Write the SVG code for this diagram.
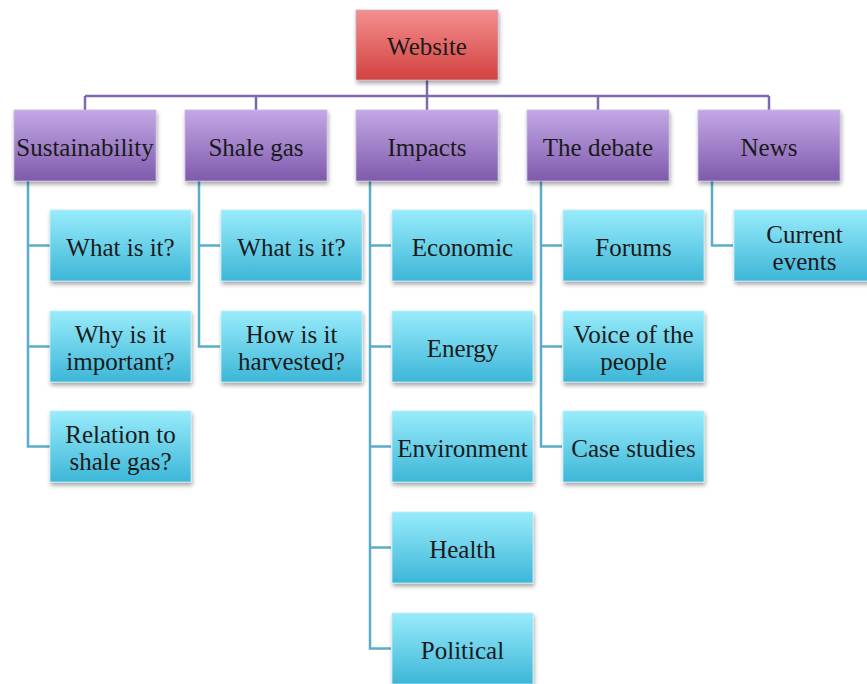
<svg xmlns="http://www.w3.org/2000/svg" width="867" height="684" viewBox="0 0 867 684">
<defs>
<linearGradient id="gRed" x1="0" y1="0" x2="0" y2="1"><stop offset="0" stop-color="#f48f8f"/><stop offset="1" stop-color="#d2423f"/></linearGradient>
<linearGradient id="gPur" x1="0" y1="0" x2="0" y2="1"><stop offset="0" stop-color="#c3a8e6"/><stop offset="1" stop-color="#7f5aac"/></linearGradient>
<linearGradient id="gCy" x1="0" y1="0" x2="0" y2="1"><stop offset="0" stop-color="#98ecfb"/><stop offset="1" stop-color="#3db6d8"/></linearGradient>
<filter id="sh" x="-10%" y="-10%" width="125%" height="140%"><feDropShadow dx="1" dy="3" stdDeviation="2" flood-color="#000" flood-opacity="0.35"/></filter>
<style>
.red{fill:url(#gRed);stroke:#c8b0c8;stroke-width:0.8;filter:url(#sh)}
.pur{fill:url(#gPur);stroke:#c9b8e0;stroke-width:0.8;filter:url(#sh)}
.cy{fill:url(#gCy);stroke:#c0eef8;stroke-width:0.8;filter:url(#sh)}
text{font-family:"Liberation Serif","Times New Roman",serif;font-size:25px;fill:#1a1a1a;text-anchor:middle}
.cp{fill:none;stroke:#8068b0;stroke-width:2.5}
.cc{fill:none;stroke:#58aec8;stroke-width:2.5}
</style>
</defs>
<rect width="867" height="684" fill="#fff"/>
<g id="connectors">
<path class="cp" d="M427 80V96M85 96H769M85 96V110M256 96V110M427 96V110M598 96V110M769 96V110"/>
<path class="cc" d="M28 181V446.5H50M28 245.5H50M28 346.5H50"/>
<path class="cc" d="M199 181V346.5H220M199 245.5H220"/>
<path class="cc" d="M370 181V648.5H391M370 245.5H391M370 346.5H391M370 446.5H391M370 547.5H391"/>
<path class="cc" d="M541 181V446.5H562M541 245.5H562M541 346.5H562"/>
<path class="cc" d="M712 181V245.5H733"/>
</g>
<g font-family="Liberation Serif, serif">
<g id="website"><rect class="red" x="356" y="10" width="142" height="70"/><text x="427" y="55">Website</text></g>
<g id="sustainability"><rect class="pur" x="14" y="110" width="142" height="71"/><text x="85" y="156">Sustainability</text></g>
<g id="shalegas"><rect class="pur" x="185" y="110" width="142" height="71"/><text x="256" y="156">Shale gas</text></g>
<g id="impacts"><rect class="pur" x="356" y="110" width="142" height="71"/><text x="427" y="156">Impacts</text></g>
<g id="debate"><rect class="pur" x="527" y="110" width="142" height="71"/><text x="598" y="156">The debate</text></g>
<g id="news"><rect class="pur" x="698" y="110" width="142" height="71"/><text x="769" y="156">News</text></g>

<g id="s1"><rect class="cy" x="50" y="210" width="141" height="71"/><text x="120.5" y="256">What is it?</text></g>
<g id="s2"><rect class="cy" x="50" y="311" width="141" height="71"/><text x="120.5" y="343">Why is it</text><text x="120.5" y="370">important?</text></g>
<g id="s3"><rect class="cy" x="50" y="411" width="141" height="71"/><text x="120.5" y="443">Relation to</text><text x="120.5" y="470">shale gas?</text></g>

<g id="g1"><rect class="cy" x="221" y="210" width="141" height="71"/><text x="291.5" y="256">What is it?</text></g>
<g id="g2"><rect class="cy" x="221" y="311" width="141" height="71"/><text x="291.5" y="343">How is it</text><text x="291.5" y="370">harvested?</text></g>

<g id="i1"><rect class="cy" x="392" y="210" width="141" height="71"/><text x="462.5" y="256">Economic</text></g>
<g id="i2"><rect class="cy" x="392" y="311" width="141" height="71"/><text x="462.5" y="357">Energy</text></g>
<g id="i3"><rect class="cy" x="392" y="411" width="141" height="71"/><text x="462.5" y="457">Environment</text></g>
<g id="i4"><rect class="cy" x="392" y="512" width="141" height="71"/><text x="462.5" y="558">Health</text></g>
<g id="i5"><rect class="cy" x="392" y="613" width="141" height="71"/><text x="462.5" y="659">Political</text></g>

<g id="d1"><rect class="cy" x="563" y="210" width="141" height="71"/><text x="633.5" y="256">Forums</text></g>
<g id="d2"><rect class="cy" x="563" y="311" width="141" height="71"/><text x="633.5" y="343">Voice of  the</text><text x="633.5" y="370">people</text></g>
<g id="d3"><rect class="cy" x="563" y="411" width="141" height="71"/><text x="633.5" y="457">Case studies</text></g>

<g id="n1"><rect class="cy" x="734" y="210" width="141" height="71"/><text x="804.5" y="243">Current</text><text x="804.5" y="270">events</text></g>
</g>
</svg>
